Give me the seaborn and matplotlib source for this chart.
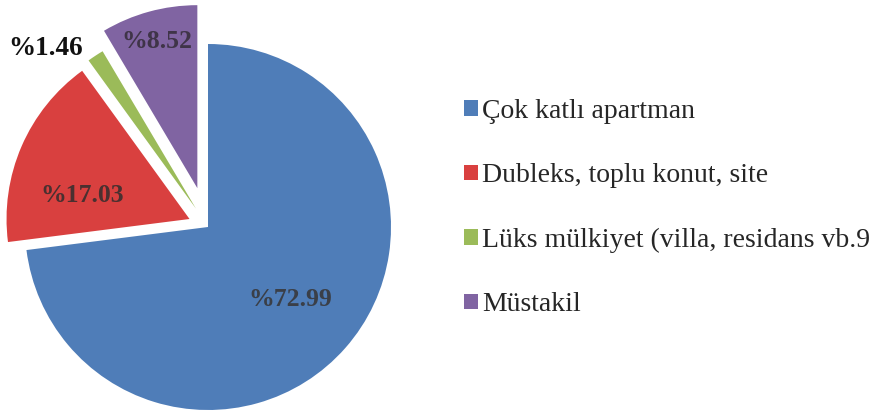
import numpy as np
import matplotlib
matplotlib.use("Agg")
import matplotlib.pyplot as plt
import seaborn as sns

# Konut tipi dağılımı (%)
categories = ["Çok katlı apartman", "Dubleks, toplu konut, site",
              "Lüks mülkiyet (villa, residans vb.9", "Müstakil"]
shares = [72.99, 17.03, 1.46, 8.52]
value_labels = ["%72.99", "%17.03", "%1.46", "%8.52"]

colors = ["#4f7db8", "#d9403f", "#9bbb59", "#8064a2"]
explode = [0.0, 0.11, 0.12, 0.22]
label_radius = [0.60, 0.60, 1.20, 0.83]
label_angle_shift = [0.0, 11.0, 10.0, 0.0]
label_sizes = [18.5, 18.5, 19.5, 18.5]
label_colors = ["#3a3f48", "#4a3030", "#111111", "#3f3448"]

sns.set_theme(style="white")
plt.rcParams["font.family"] = ["Liberation Serif", "DejaVu Serif"]

fig = plt.figure(figsize=(8.79, 4.11), dpi=100)
ax = fig.add_axes([0, 0, 1, 1])

wedges, _ = ax.pie(shares, colors=colors, explode=explode, startangle=90,
                   counterclock=False, radius=1.0,
                   wedgeprops=dict(linewidth=0))

for w, lab, r, da, fs, c in zip(wedges, value_labels, label_radius,
                                label_angle_shift, label_sizes, label_colors):
    mid = np.deg2rad((w.theta1 + w.theta2) / 2 + da)
    cx, cy = w.center
    ax.text(cx + r * np.cos(mid), cy + r * np.sin(mid), lab,
            ha="center", va="center", fontsize=fs, fontweight="bold",
            color=c)

# pie centred at (208, 227) px with a 183 px radius
scale = 183.0
ax.set_xlim(-208 / scale, (879 - 208) / scale)
ax.set_ylim(-(411 - 227) / scale, 227 / scale)
ax.set_aspect("auto")
ax.axis("off")

ax.legend(wedges, categories, loc="upper left",
          bbox_to_anchor=(450 / 879, 1 - 85 / 411),
          frameon=False, fontsize=20, handlelength=0.5, handleheight=0.5,
          handletextpad=0.15, labelspacing=1.42, borderpad=0)

fig.savefig("out.png", dpi=100, facecolor="white")
